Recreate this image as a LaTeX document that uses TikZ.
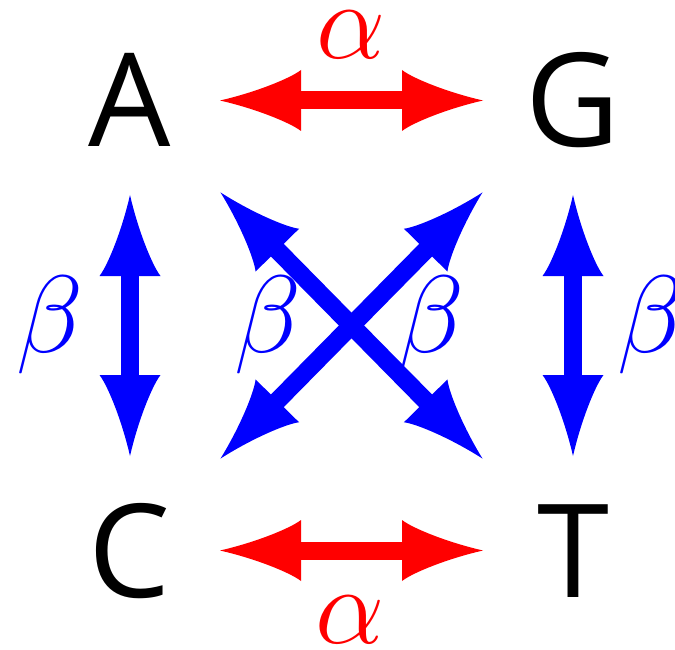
\documentclass[tikz,border=0pt]{standalone}
\usepackage{fontspec}
\newfontfamily\lettfont{Open Sans}
\DeclareFontShape{OML}{cmm}{m}{it}{<->cmmi12}{}
\DeclareFontShape{OMS}{cmsy}{m}{n}{<->cmsy10}{}
\DeclareFontShape{OMX}{cmex}{m}{n}{<->cmex10}{}
\usetikzlibrary{arrows.meta}
\pgfdeclarearrow{
  name = Spike,
  setup code = {
    \pgfarrowssettipend{0pt}
    \pgfarrowssetbackend{-81pt}
    \pgfarrowssetlineend{-60pt}
    \pgfarrowshullpoint{0pt}{0pt}
    \pgfarrowsupperhullpoint{-81pt}{30.5pt}
  },
  drawing code = {
    \pgfpathmoveto{\pgfpoint{0pt}{0pt}}
    \pgfpathcurveto{\pgfpoint{-35pt}{8pt}}{\pgfpoint{-70pt}{22pt}}{\pgfpoint{-81pt}{30.5pt}}
    \pgfpathlineto{\pgfpoint{-81pt}{-30.5pt}}
    \pgfpathcurveto{\pgfpoint{-70pt}{-22pt}}{\pgfpoint{-35pt}{-8pt}}{\pgfpoint{0pt}{0pt}}
    \pgfpathclose
    \pgfusepathqfill
  }
}
\tikzset{
  base letter/.style={inner sep=0pt, text height=93pt, text depth=0pt,
    font=\lettfont\fontsize{130}{130}\selectfont},
  greek/.style={inner sep=0pt, font=\fontsize{110}{110}\selectfont},
  bigarrow/.style={line width=18pt, {Spike}-{Spike}},
  redarrow/.style={bigarrow, red, shorten <=90pt, shorten >=90pt},
  bluearrow/.style={bigarrow, blue, shorten <=94.5pt, shorten >=94.5pt},
  diagarrow/.style={bigarrow, blue, shorten <=129pt, shorten >=129pt},
}
\begin{document}
\begin{tikzpicture}[x=1pt,y=-1pt]
\useasboundingbox (0,0) rectangle (675,650);
\node[base letter] (A) at (130,100.5) {A};
\node[base letter] (G) at (573,100.5) {G};
\node[base letter] (C) at (130,550.5) {C};
\node[base letter] (T) at (573,550.5) {T};

\draw[redarrow] (A.center) -- (G.center);
\draw[redarrow] (C.center) -- (T.center);
\draw[bluearrow] (A.center) -- (C.center);
\draw[bluearrow] (G.center) -- (T.center);
\draw[diagarrow] (A.center) -- (T.center);
\draw[diagarrow] (G.center) -- (C.center);

\node[greek, red] (a1) at (351,35) {$\alpha$};
\node[greek, red] (a2) at (350,620) {$\alpha$};
\node[greek, blue] (b1) at (50,325) {$\beta$};
\node[greek, blue] (b2) at (268,325) {$\beta$};
\node[greek, blue] (b3) at (431,325) {$\beta$};
\node[greek, blue] (b4) at (651,325) {$\beta$};
\end{tikzpicture}
\end{document}
